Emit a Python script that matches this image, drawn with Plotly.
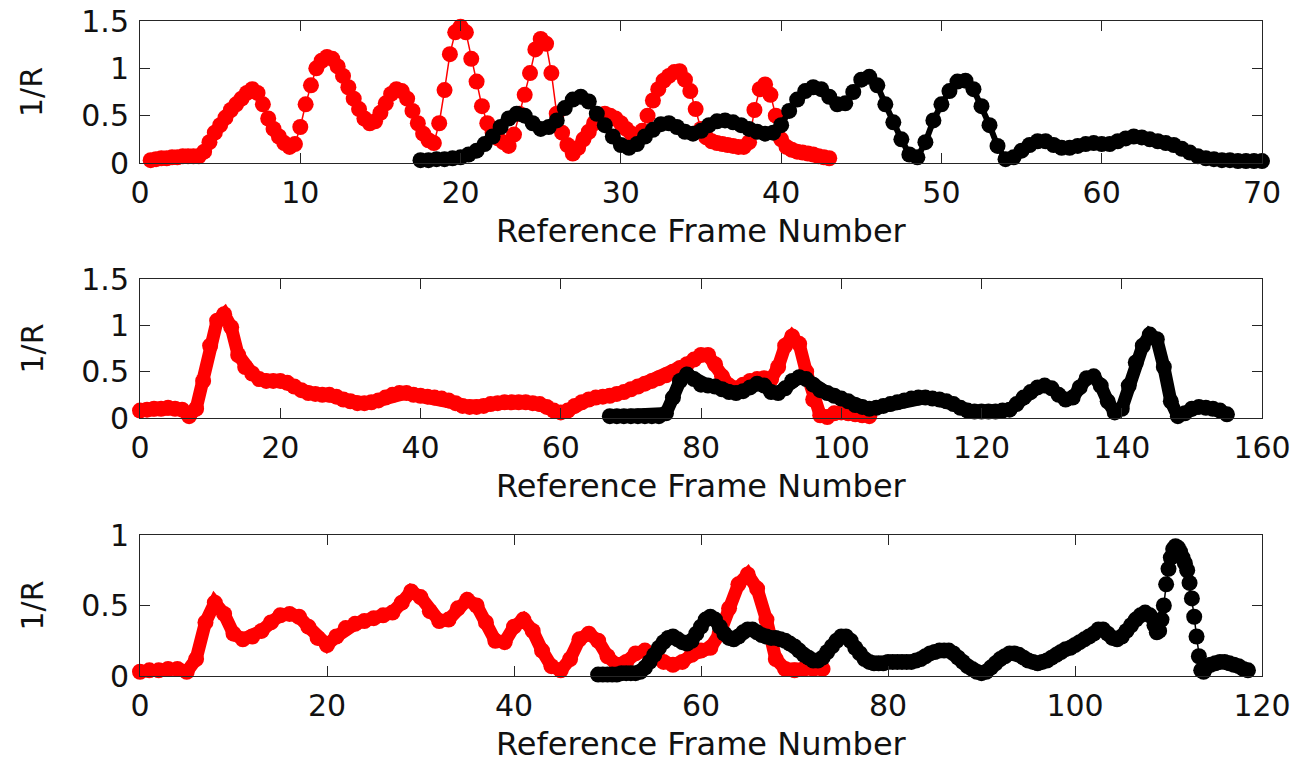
import numpy as np
import plotly.graph_objects as go

# ---------------- data (1/R vs reference frame number) ----------------
# Panel 1 red: sampled every 1/3 frame starting at frame 2/3
p1_red_start, p1_red_step = 2.0 / 3.0, 1.0 / 3.0
p1_red = [0.03,
          0.04, 0.05, 0.05, 0.06, 0.06, 0.07, 0.07, 0.07, 0.07,
          0.12, 0.22, 0.32, 0.40, 0.48, 0.56, 0.62, 0.68, 0.74,
          0.78, 0.74, 0.62, 0.47, 0.36, 0.28, 0.21, 0.17, 0.20,
          0.38, 0.62, 0.82, 1.00, 1.08, 1.12, 1.10, 1.02, 0.92,
          0.80, 0.68, 0.57, 0.47, 0.42, 0.44, 0.53, 0.63, 0.73,
          0.78, 0.76, 0.68, 0.55, 0.42, 0.31, 0.24, 0.21, 0.42,
          0.77, 1.15, 1.38, 1.44, 1.38, 1.10, 0.86, 0.60, 0.42,
          0.32, 0.26, 0.22, 0.18, 0.30, 0.52, 0.72, 0.95, 1.20,
          1.31, 1.26, 0.95, 0.52, 0.32, 0.19, 0.10, 0.16, 0.25,
          0.33, 0.42, 0.50, 0.52, 0.50, 0.47, 0.42, 0.36, 0.31,
          0.29, 0.34, 0.50, 0.66, 0.78, 0.87, 0.92, 0.96, 0.97,
          0.88, 0.76, 0.57, 0.36, 0.27, 0.23, 0.21, 0.20, 0.19,
          0.18, 0.17, 0.17, 0.22, 0.56, 0.78, 0.83, 0.72, 0.50,
          0.25, 0.17, 0.14, 0.12, 0.11, 0.10, 0.09, 0.07, 0.06,
          0.05]
# Panel 1 black: sampled every 0.5 frame
p1_black_start, p1_black_step = 17.5, 0.5
p1_black = [0.03, 0.03, 0.04, 0.04, 0.05, 0.06, 0.09, 0.13, 0.20, 0.28,
            0.38, 0.47, 0.52, 0.50, 0.42, 0.36, 0.38, 0.45, 0.58, 0.67,
            0.70, 0.65, 0.52, 0.40, 0.28, 0.19, 0.16, 0.20, 0.28, 0.35,
            0.41, 0.42, 0.38, 0.33, 0.31, 0.34, 0.40, 0.44, 0.45, 0.43,
            0.40, 0.36, 0.33, 0.31, 0.32, 0.40, 0.55, 0.67, 0.76, 0.80,
            0.78, 0.70, 0.62, 0.63, 0.75, 0.88, 0.91, 0.82, 0.62, 0.43,
            0.25, 0.09, 0.06, 0.22, 0.45, 0.62, 0.76, 0.86, 0.87, 0.78,
            0.60, 0.40, 0.18, 0.04, 0.06, 0.13, 0.19, 0.23, 0.23, 0.19,
            0.16, 0.16, 0.18, 0.20, 0.21, 0.20, 0.20, 0.23, 0.26, 0.28,
            0.27, 0.25, 0.23, 0.21, 0.19, 0.15, 0.11, 0.07, 0.05, 0.04,
            0.03, 0.03, 0.02, 0.02, 0.02, 0.02]

# Panel 2: sampled every frame
p2_red_start, p2_red_step = 0.0, 1.0
p2_red = [0.08, 0.09, 0.10, 0.10, 0.11, 0.10, 0.09, 0.02, 0.10, 0.40,
          0.78, 1.05, 1.12, 0.98, 0.68, 0.55, 0.48, 0.42, 0.40, 0.40,
          0.40, 0.38, 0.34, 0.30, 0.27, 0.26, 0.25, 0.25, 0.23, 0.20,
          0.18, 0.16, 0.16, 0.17, 0.19, 0.22, 0.25, 0.27, 0.27, 0.25,
          0.24, 0.23, 0.22, 0.21, 0.19, 0.16, 0.13, 0.12, 0.12, 0.13,
          0.15, 0.16, 0.17, 0.17, 0.17, 0.17, 0.16, 0.15, 0.12, 0.08,
          0.06, 0.08, 0.13, 0.17, 0.20, 0.22, 0.23, 0.24, 0.26, 0.28,
          0.31, 0.34, 0.37, 0.40, 0.43, 0.46, 0.50, 0.54, 0.58, 0.63,
          0.68, 0.68, 0.58, 0.45, 0.35, 0.32, 0.36, 0.40, 0.42, 0.43,
          0.42, 0.55, 0.78, 0.88, 0.80, 0.50, 0.20, 0.03, 0.01, 0.05,
          0.06, 0.05, 0.04, 0.03, 0.02]
p2_black_start, p2_black_step = 67.0, 1.0
p2_black = [0.02, 0.02, 0.02, 0.02, 0.02, 0.02, 0.02, 0.02, 0.05, 0.22,
            0.40, 0.47, 0.42, 0.36, 0.35, 0.34, 0.31, 0.28, 0.27, 0.29,
            0.33, 0.37, 0.35, 0.28, 0.27, 0.32, 0.40, 0.44, 0.42, 0.36,
            0.30, 0.27, 0.24, 0.21, 0.18, 0.14, 0.12, 0.10, 0.11, 0.13,
            0.15, 0.17, 0.19, 0.21, 0.22, 0.22, 0.21, 0.20, 0.18, 0.15,
            0.11, 0.08, 0.07, 0.07, 0.07, 0.07, 0.08, 0.09, 0.15, 0.22,
            0.28, 0.33, 0.35, 0.32, 0.25, 0.20, 0.22, 0.33, 0.43, 0.45,
            0.35, 0.18, 0.06, 0.10, 0.35, 0.60, 0.78, 0.90, 0.85, 0.55,
            0.18, 0.02, 0.05, 0.10, 0.12, 0.11, 0.10, 0.08, 0.04]

# Panel 3 red: sampled every frame
p3_red_start, p3_red_step = 0.0, 1.0
p3_red = [0.03, 0.04, 0.04, 0.05, 0.05, 0.03, 0.12, 0.38, 0.52, 0.44,
          0.30, 0.26, 0.28, 0.32, 0.38, 0.43, 0.44, 0.42, 0.35, 0.27,
          0.22, 0.28, 0.34, 0.37, 0.39, 0.41, 0.43, 0.45, 0.52, 0.60,
          0.56, 0.46, 0.39, 0.40, 0.48, 0.54, 0.50, 0.38, 0.25, 0.24,
          0.35, 0.40, 0.32, 0.18, 0.07, 0.04, 0.12, 0.26, 0.30, 0.25,
          0.14, 0.08, 0.10, 0.16, 0.18, 0.15, 0.10, 0.08, 0.10, 0.15,
          0.18, 0.20, 0.30, 0.48, 0.65, 0.72, 0.62, 0.40, 0.12, 0.05,
          0.04, 0.05, 0.05, 0.05]
# Panel 3 black: every 0.5 frame, every 0.25 frame around the sharp peak
p3_black_start, p3_black_step = 49.0, 0.5
p3_black = [0.01, 0.01, 0.01, 0.01, 0.01, 0.02, 0.02, 0.02, 0.02, 0.03,
            0.06, 0.10, 0.15, 0.20, 0.24, 0.27, 0.28, 0.26, 0.24, 0.23,
            0.25, 0.30, 0.35, 0.40, 0.42, 0.40, 0.35, 0.30, 0.27, 0.26,
            0.28, 0.31, 0.33, 0.33, 0.31, 0.29, 0.28, 0.27, 0.27, 0.26,
            0.25, 0.23, 0.21, 0.18, 0.15, 0.13, 0.11, 0.11, 0.13, 0.17,
            0.21, 0.25, 0.28, 0.28, 0.25, 0.20, 0.16, 0.12, 0.10, 0.09,
            0.09, 0.09, 0.10, 0.10, 0.10, 0.10, 0.10, 0.10, 0.11, 0.12,
            0.14, 0.16, 0.17, 0.18, 0.18, 0.18, 0.16, 0.13, 0.10, 0.07,
            0.05, 0.03, 0.02, 0.03, 0.06, 0.09, 0.12, 0.14, 0.16, 0.16,
            0.15, 0.13, 0.11, 0.10, 0.09, 0.10, 0.11, 0.13, 0.15, 0.17,
            0.19, 0.20, 0.22, 0.24, 0.26, 0.28, 0.30, 0.33, 0.33, 0.30,
            0.27, 0.26, 0.28, 0.32, 0.36, 0.40, 0.43, 0.45, 0.43, 0.36]
p3_peak_start, p3_peak_step = 108.75, 0.25
p3_black_peak = [0.31, 0.32, 0.40, 0.50, 0.65, 0.76, 0.84, 0.90, 0.92, 0.91,
                 0.88, 0.84, 0.80, 0.75, 0.66, 0.55, 0.42, 0.28, 0.14, 0.04,
                 0.03, 0.06]
p3_tail_start, p3_tail_step = 114.5, 0.5
p3_black_tail = [0.08, 0.09, 0.10, 0.10, 0.09, 0.08, 0.07, 0.05, 0.04]

x_tick_labels = [
    [0, 10, 20, 30, 40, 50, 60, 70],
    [0, 20, 40, 60, 80, 100, 120, 140, 160],
    [0, 20, 40, 60, 80, 100, 120],
]
y_tick_labels = [[0, 0.5, 1, 1.5], [0, 0.5, 1, 1.5], [0, 0.5, 1]]
x_ranges = [[0, 70], [0, 160], [0, 120]]
y_ranges = [[0, 1.5], [0, 1.5], [0, 1]]

# ---------------- figure ----------------
W, H = 1297, 762
FONT = "DejaVu Sans"
AX = "#262626"
TXT = "#111111"
RED, BLACK = "#ff0000", "#000000"


def xs(start, step, vals):
    return start + step * np.arange(len(vals))


p3_bx = np.concatenate([xs(p3_black_start, p3_black_step, p3_black),
                        xs(p3_peak_start, p3_peak_step, p3_black_peak),
                        xs(p3_tail_start, p3_tail_step, p3_black_tail)])
p3_by = p3_black + p3_black_peak + p3_black_tail

series = [
    (1, xs(p1_red_start, p1_red_step, p1_red), p1_red, RED, 1.5),
    (1, xs(p1_black_start, p1_black_step, p1_black), p1_black, BLACK, 6),
    (2, xs(p2_red_start, p2_red_step, p2_red), p2_red, RED, 13),
    (2, xs(p2_black_start, p2_black_step, p2_black), p2_black, BLACK, 13),
    (3, xs(p3_red_start, p3_red_step, p3_red), p3_red, RED, 13),
    (3, p3_bx, p3_by, BLACK, 1.5),
]

fig = go.Figure()
for k, xv, yv, col, lw in series:
    sfx = "" if k == 1 else str(k)
    fig.add_trace(go.Scatter(
        x=xv, y=yv, mode="lines+markers",
        line=dict(color=col, width=lw),
        marker=dict(color=col, size=16, line=dict(width=0)),
        xaxis="x" + sfx, yaxis="y" + sfx, cliponaxis=False,
        showlegend=False, hoverinfo="skip"))

# pixel geometry of the three plot areas
px_l, px_r = 140, 1262
rows = [(21, 163), (279, 418), (535, 676)]

layout = dict(width=W, height=H, margin=dict(l=0, r=0, t=0, b=0, autoexpand=False),
              paper_bgcolor="white", plot_bgcolor="white", showlegend=False)
annotations = []
for i, (top, bot) in enumerate(rows):
    sfx = "" if i == 0 else str(i + 1)
    common = dict(showline=True, linecolor=AX, linewidth=1, mirror="ticks",
                  ticks="inside", ticklen=10, tickcolor=AX, tickwidth=1,
                  showgrid=False, zeroline=False, automargin=False,
                  tickfont=dict(family=FONT, size=30, color=TXT))
    layout["xaxis" + sfx] = dict(
        common, domain=[px_l / W, px_r / W], range=x_ranges[i],
        tickvals=x_tick_labels[i], ticktext=[str(v) for v in x_tick_labels[i]],
        anchor="y" + sfx, ticklabelstandoff=3)
    layout["yaxis" + sfx] = dict(
        common, domain=[1 - bot / H, 1 - top / H], range=y_ranges[i],
        tickvals=y_tick_labels[i], ticktext=[str(v) for v in y_tick_labels[i]],
        anchor="x" + sfx, ticklabelstandoff=4)
    annotations.append(dict(
        text="Reference Frame Number", xref="paper", yref="paper",
        x=(px_l + px_r) / 2 / W, y=1 - (bot + 68) / H,
        xanchor="center", yanchor="middle", showarrow=False,
        font=dict(family=FONT, size=32, color=TXT)))
    annotations.append(dict(
        text="1/R", xref="paper", yref="paper", textangle=-90,
        x=32 / W, y=1 - (top + bot) / 2 / H,
        xanchor="center", yanchor="middle", showarrow=False,
        font=dict(family=FONT, size=30, color=TXT)))
layout["annotations"] = annotations

fig.update_layout(**layout)
fig.write_html("out.html")
